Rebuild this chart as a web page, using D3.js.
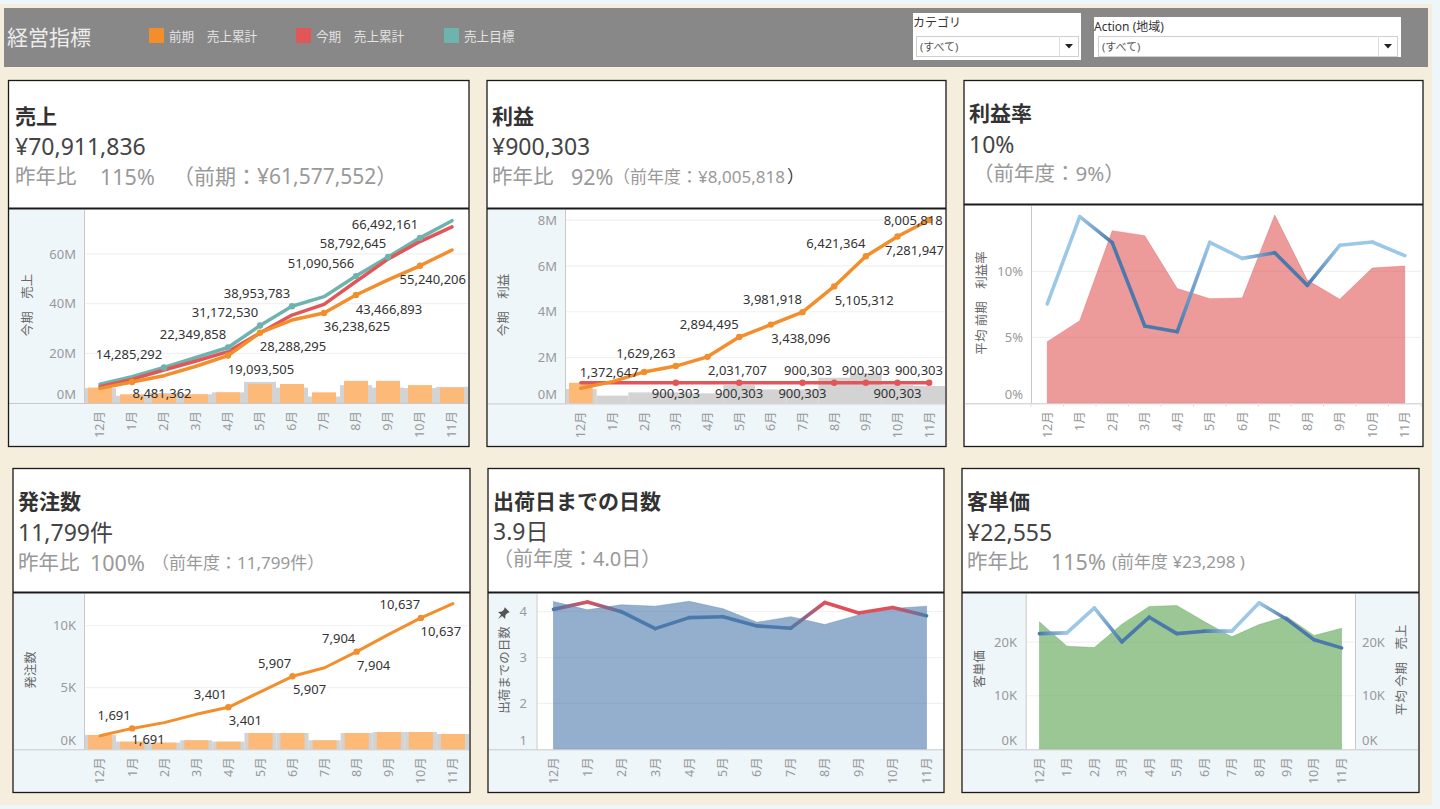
<!DOCTYPE html>
<html lang="ja"><head><meta charset="utf-8">
<script src="https://cdn.jsdelivr.net/npm/d3@7"></script>
<style>
html,body{margin:0;padding:0;background:#EFF6FA;overflow:hidden}
svg{display:block}
text{font-family:"Noto Sans","Noto Sans CJK JP",sans-serif}
</style></head><body>
<svg id="c" width="1440" height="809"></svg>
<script>
// ---------- data ----------
const months = ["12月","1月","2月","3月","4月","5月","6月","7月","8月","9月","10月","11月"];

const salesTarget = [7600000,10600000,14285292,18300000,22349858,31172530,38953783,42800000,51090566,58792645,66492161,73400000];
const salesCurrent = [6600000,9500000,13300000,16900000,20700000,28200000,35400000,39700000,48900000,57900000,65000000,70911836];
const salesPrior = [5900000,8481362,11000000,14800000,19093505,28288295,33400000,36238625,43466893,49600000,55240206,61577552];
const salesBarCurrent = [6200000,3500000,3500000,3500000,4300000,7650000,7650000,4300000,8900000,8900000,7200000,6200000];
const salesBarPrior = [6000000,2900000,4000000,3500000,4300000,8500000,6200000,2600000,7200000,6200000,6000000,6500000];
const salesTicks = [0,20000000,40000000,60000000];

const profitPrior = [660000,950000,1372647,1629263,2031707,2894495,3438096,3981918,5105312,6421364,7281947,8005818];
const profitCurrent = [900303,900303,900303,900303,900303,900303,900303,900303,900303,900303,900303,900303];
const profitBarCurrent = [900303,0,0,0,0,0,0,0,0,0,0,0];
const profitBarPrior = [630000,340000,480000,480000,440000,800000,610000,610000,1120000,1310000,800000,760000];
const profitTicks = [0,2000000,4000000,6000000,8000000];

const marginPrior = [4.67,6.26,13.08,12.7,8.69,7.93,7.98,14.27,9.34,7.88,10.25,10.4];
const marginCurrent = [7.53,14.14,12.17,5.86,5.43,12.2,10.98,11.41,8.94,11.97,12.22,11.19];
const marginTicks = [0,5,10];

const orders = [1090,1691,2160,2830,3401,4650,5907,6600,7904,9300,10637,11799];
const orderBarCurrent = [1160,620,540,730,620,1320,1320,730,1320,1400,1400,1240];
const orderBarPrior = [1160,620,540,730,620,1320,1320,730,1320,1400,1400,1240];
const orderTicks = [0,5000,10000];

const shipPrior = [4.22,4.04,4.15,4.12,4.225,4.065,3.77,3.89,3.72,3.93,4.07,4.12];
const shipCurrent = [4.05,4.21,4.0,3.63,3.87,3.89,3.69,3.64,4.2,3.97,4.09,3.91];
const shipTicks = [1,2,3,4];

const unitPrior = [23800,19250,19000,23360,26670,26850,23860,21000,23300,24800,21250,22600];
const unitCurrent = [21600,21740,26400,20060,24670,21600,22060,22060,27350,24300,20440,18940];
const unitTicks = [0,10000,20000];

const legendItems = ["前期　売上累計","今期　売上累計","売上目標"];

// ---------- styles ----------
const C = {beige:"#F5EEDD",band:"#888888",side:"#EFF6FA",grid:"#F1F1F1",axis:"#C9C9C9",
  orange:"#F28E2B",red:"#E15759",teal:"#6FB3AE",barO:"#FDB977",barG:"#D3D3D3",
  dark:"#4C79AB",light:"#9CC8E8",tick:"#999",title:"#666",label:"#333",border:"#1a1a1a"};
const svg = d3.select("#c");
svg.append("rect").attr("x",0).attr("y",4).attr("width",1432).attr("height",801).attr("fill",C.beige);

function txt(parent,x,y,s,size,fill,opt={}){
  const t=parent.append("text").attr("x",x).attr("y",y).attr("dominant-baseline","central")
    .attr("font-size",size).attr("fill",fill).text(s);
  if(opt.weight)t.attr("font-weight",opt.weight);
  if(opt.anchor)t.attr("text-anchor",opt.anchor);
  return t;
}

// ---------- header band ----------
svg.append("rect").attr("x",4).attr("y",8).attr("width",1424).attr("height",59).attr("fill",C.band);
txt(svg,7,37,"経営指標",21,"#EDEDED");
[[149,C.orange],[296,C.red],[444,C.teal]].forEach(([x,col],i)=>{
  svg.append("rect").attr("x",x).attr("y",28).attr("width",15).attr("height",15).attr("fill",col);
  txt(svg,x+20,36,legendItems[i],12.6,"#E4E4E4");
});
function dropdown(x,y,w,h,bx,by,bw,bh,label,labelY){
  svg.append("rect").attr("x",x).attr("y",y).attr("width",w).attr("height",h).attr("fill","#fff");
  txt(svg,x,labelY,label,12,"#333");
  svg.append("rect").attr("x",bx+.5).attr("y",by+.5).attr("width",bw).attr("height",bh).attr("fill","#fff").attr("stroke","#CFCFCF");
  svg.append("line").attr("x1",bx+bw-18.5).attr("x2",bx+bw-18.5).attr("y1",by).attr("y2",by+bh).attr("stroke","#DDD");
  txt(svg,bx+4,by+10,"(すべて)",11,"#555");
  const cx=bx+bw-9, cy=by+10;
  svg.append("path").attr("d",`M${cx-4},${cy-2}L${cx+4},${cy-2}L${cx},${cy+2.5}Z`).attr("fill","#222");
}
dropdown(913,13,168,47,916,36,162,20,"カテゴリ",22);
dropdown(1094,17,307,40,1098,36,299,20,"Action (地域)",26);

// ---------- panel frames and headers ----------
const panels=[
 {x:8.5,w:460.5,top:80.5,mid:208.5,bot:446.5},{x:487,w:459,top:80.5,mid:208.5,bot:446.5},{x:964,w:459,top:80.5,mid:204.5,bot:446.5},
 {x:13,w:457,top:468.5,mid:592.5,bot:792.5},{x:488,w:456,top:468.5,mid:592.5,bot:792.5},{x:962,w:457,top:468.5,mid:592.5,bot:792.5}];
panels.forEach(p=>{
  svg.append("rect").attr("x",p.x).attr("y",p.top).attr("width",p.w).attr("height",p.mid-p.top).attr("fill","#fff");
  svg.append("rect").attr("x",p.x).attr("y",p.mid).attr("width",p.w).attr("height",p.bot-p.mid).attr("fill","#fff");
});
function head(x,yT,title,value,yV,yS,subs){
  txt(svg,x,yT,title,21,"#333",{weight:700});
  txt(svg,x,yV,value,23,"#444");
  subs.forEach(s=>txt(svg,s[0],yS,s[1],s[2],s[3]||"#999"));
}
head(15,115.5,"売上","¥70,911,836",146,176,[[15,"昨年比",20.5],[100,"115%",21.5],[173,"（前期：¥61,577,552）",21]]);
head(492,115.5,"利益","¥900,303",146,176,[[492,"昨年比",20.5],[571,"92%",21.5],[613,"（前年度：¥8,005,818",17],[787,"）",17,"#333"]]);
head(969,112.5,"利益率","10%",144,173,[[973,"（前年度：9%）",20.5]]);
head(18,500.5,"発注数","11,799件",532,562,[[18,"昨年比",20.5],[90,"100%",21.5],[152,"（前年度：11,799件）",17]]);
head(493,500.5,"出荷日までの日数","3.9日",531,558,[[493,"（前年度：4.0日）",20]]);
head(967,500.5,"客単価","¥22,555",532,561,[[967,"昨年比",20.5],[1051,"115%",21.5],[1112,"(前年度 ¥23,298 )",17]]);

// ---------- drawing helpers ----------
function plot(cfg){
  const {left,right,x0,x1,top,base,domain,ticks,fmt,tickX,titleText,titleX,titleY,sides}=cfg;
  const g=svg.append("g");
  if(sides){
    g.append("rect").attr("x",left).attr("y",top).attr("width",x0-left).attr("height",cfg.bottom-top).attr("fill",C.side);
    g.append("rect").attr("x",left).attr("y",base).attr("width",right-left).attr("height",cfg.bottom-base).attr("fill",C.side);
  }
  const x=d3.scaleBand().domain(months).range([x0,x1]);
  const y=d3.scaleLinear().domain(domain).range([base,top]);
  g.selectAll("line.grid").data(ticks.filter(t=>t!==domain[0])).join("line")
    .attr("x1",x0).attr("x2",x1).attr("y1",d=>y(d)).attr("y2",d=>y(d)).attr("stroke",C.grid).attr("stroke-width",1.2);
  const ay=g.append("g").attr("transform",`translate(${tickX},0)`)
    .call(d3.axisLeft(y).tickValues(ticks).tickFormat(fmt).tickSize(0).tickPadding(0));
  ay.select(".domain").remove();
  ay.selectAll("text").attr("font-size",13).attr("fill",C.tick).attr("font-family",null)
    .attr("dy",d=>d===domain[0]?"-0.37em":"0.32em").attr("x",0);
  const ax=g.append("g").attr("transform",`translate(0,${base})`)
    .call(d3.axisBottom(x).tickSize(0).tickPadding(0));
  ax.select(".domain").remove();
  ax.selectAll("text").attr("font-size",12.5).attr("fill",C.tick).attr("font-family",null)
    .attr("text-anchor","end").attr("transform","rotate(-90)").attr("x",-8).attr("y",0).attr("dy","0.35em");
  if(titleText) g.append("text").attr("transform",`translate(${titleX},${titleY}) rotate(-90)`)
    .attr("text-anchor","middle").attr("dominant-baseline","central")
    .attr("font-size",12.5).attr("fill",C.title).text(titleText);
  return {g,x,y,cx:i=>x(months[i])+x.bandwidth()/2,cfg};
}
function finishAxes(p){
  const {g,cfg}=p;
  g.append("line").attr("x1",cfg.left).attr("x2",cfg.right).attr("y1",cfg.base+.5).attr("y2",cfg.base+.5).attr("stroke",C.axis);
  g.append("line").attr("x1",cfg.x0+.5).attr("x2",cfg.x0+.5).attr("y1",cfg.top).attr("y2",cfg.base).attr("stroke",C.axis);
}
function bars(p,values,col,pad){
  p.g.append("g").selectAll("rect").data(values).join("rect")
    .attr("x",(d,i)=>p.x(months[i])+pad).attr("width",p.x.bandwidth()-2*pad)
    .attr("y",d=>p.y(d)).attr("height",d=>p.y(p.y.domain()[0])-p.y(d)).attr("fill",col);
}
function line(p,values,col,w=3.5){
  p.g.append("path").datum(values)
    .attr("d",d3.line().x((d,i)=>p.cx(i)).y(d=>p.y(d)))
    .attr("fill","none").attr("stroke",col).attr("stroke-width",w).attr("stroke-linejoin","round").attr("stroke-linecap","round");
}
function dots(p,values,which,col){
  p.g.append("g").selectAll("circle").data(which).join("circle")
    .attr("cx",i=>p.cx(i)).attr("cy",i=>p.y(values[i])).attr("r",3.2).attr("fill",col);
}
function labels(p,values,which,dx,dy,maxRight){
  const f=d3.format(",");
  p.g.append("g").selectAll("text").data(which).join("text")
    .attr("text-anchor","middle").attr("dominant-baseline","central")
    .attr("font-size",13).attr("fill",C.label)
    .text(i=>f(values[i]))
    .each(function(i){
      const w=this.getComputedTextLength();
      let cx=p.cx(i)+dx;
      if(maxRight!=null) cx=Math.min(cx,maxRight-w/2);
      d3.select(this).attr("x",cx).attr("y",p.y(values[i])+dy);
    });
}
function area(p,values,col){
  p.g.append("path").datum(values)
    .attr("d",d3.area().x((d,i)=>p.cx(i)).y0(p.cfg.base).y1(d=>p.y(d)))
    .attr("fill",col).attr("fill-opacity",.6).attr("stroke",col).attr("stroke-opacity",.35);
}
let gid=0;
function gradLine(p,values,colorAt,w=3.6){
  const defs=svg.select("defs").empty()?svg.append("defs"):svg.select("defs");
  for(let i=0;i<values.length-1;i++){
    const id="g"+(gid++);
    const a=[p.cx(i),p.y(values[i])], b=[p.cx(i+1),p.y(values[i+1])];
    const lg=defs.append("linearGradient").attr("id",id).attr("gradientUnits","userSpaceOnUse")
      .attr("x1",a[0]).attr("y1",a[1]).attr("x2",b[0]).attr("y2",b[1]);
    lg.append("stop").attr("offset","0%").attr("stop-color",colorAt(i));
    lg.append("stop").attr("offset","100%").attr("stop-color",colorAt(i+1));
    p.g.append("line").attr("x1",a[0]).attr("y1",a[1]).attr("x2",b[0]+.01).attr("y2",b[1]+.01)
      .attr("stroke",`url(#${id})`).attr("stroke-width",w).attr("stroke-linecap","round");
  }
}
const fmtM=d=>d/1e6+"M", fmtK=d=>d/1e3+"K", fmtP=d=>d+"%";

// ---------- 売上 ----------
{
  const p=plot({left:9,right:468,bottom:446,x0:84,x1:468,top:210,base:403,domain:[0,77700000],ticks:salesTicks,fmt:fmtM,tickX:76,
    titleText:"今期　売上",titleX:27,titleY:305,sides:true});
  bars(p,salesBarPrior,C.barG,0); bars(p,salesBarCurrent,C.barO,4);
  finishAxes(p);
  line(p,salesTarget,C.teal); line(p,salesCurrent,C.red); line(p,salesPrior,C.orange);
  dots(p,salesTarget,[2,4,5,6,8,9,10],C.teal);
  dots(p,salesPrior,[1,4,5,7,8,10],C.orange);
  labels(p,salesTarget,[2,4,5,6,8,9,10],-35,-13.5);
  labels(p,salesPrior,[1],30,11);
  labels(p,salesPrior,[4,5,7,8,10],33,13.5,466);
}
// ---------- 利益 ----------
{
  const p=plot({left:488,right:945,bottom:446,x0:565,x1:945,top:210,base:403.4,domain:[0,8440000],ticks:profitTicks,fmt:fmtM,tickX:557,
    titleText:"今期　利益",titleX:503,titleY:305,sides:true});
  bars(p,profitBarPrior,C.barG,0); bars(p,profitBarCurrent,C.barO,4);
  finishAxes(p);
  line(p,profitCurrent,C.red); line(p,profitPrior,C.orange);
  dots(p,profitCurrent,[3,5,7,8,9,10,11],C.red);
  dots(p,profitPrior,[2,3,4,5,6,7,8,9,10,11],C.orange);
  labels(p,profitPrior,[2],-35,0);
  labels(p,profitPrior,[3,5,7,9],-30,-13.5);
  labels(p,profitPrior,[4,6,8],30,13.5);
  labels(p,profitPrior,[10],30,13,944);
  labels(p,profitPrior,[11],-16,0);
  labels(p,profitCurrent,[3,5,7,10],0,10.5);
  labels(p,profitCurrent,[8],-26,-12.5);
  labels(p,profitCurrent,[9],0,-12.5);
  labels(p,profitCurrent,[11],0,-12.5,943);
}
// ---------- 利益率 ----------
{
  const p=plot({left:965,right:1422,bottom:446,x0:1031,x1:1421,top:206,base:403.3,domain:[0,14.95],ticks:marginTicks,fmt:fmtP,tickX:1023,
    titleText:"平均 前期　利益率",titleX:981,titleY:303,sides:false});
  area(p,marginPrior,C.red);
  finishAxes(p);
  p.g.selectAll("line.bt").data(d3.range(13)).join("line")
    .attr("x1",i=>p.x.range()[0]+i*p.x.step()).attr("x2",i=>p.x.range()[0]+i*p.x.step()).attr("y1",403).attr("y2",407).attr("stroke","#E2E2E2");
  gradLine(p,marginCurrent,i=>marginCurrent[i]<marginPrior[i]?C.dark:C.light);
}
// ---------- 発注数 ----------
{
  const p=plot({left:14,right:469,bottom:792,x0:84,x1:469,top:594,base:749.3,domain:[0,12570],ticks:orderTicks,fmt:fmtK,tickX:76,
    titleText:"発注数",titleX:30,titleY:670,sides:true});
  bars(p,orderBarPrior,C.barG,0); bars(p,orderBarCurrent,C.barO,4);
  finishAxes(p);
  line(p,orders,C.orange,3);
  dots(p,orders,[1,4,6,8,10],C.orange);
  labels(p,orders,[1,4,6,8],-18,-13.5);
  labels(p,orders,[10],-21,-13.5);
  labels(p,orders,[1],16,11);
  labels(p,orders,[4,6,8],17,13);
  labels(p,orders,[10],20,13);
}
// ---------- 出荷日までの日数 ----------
{
  const p=plot({left:489,right:943,bottom:792,x0:536.5,x1:943.5,top:594,base:749.3,domain:[1,4.385],ticks:shipTicks,fmt:d=>d,tickX:527,
    titleText:"出荷までの日数",titleX:504,titleY:670,sides:true});
  area(p,shipPrior,C.dark);
  finishAxes(p);
  gradLine(p,shipCurrent,i=>shipCurrent[i]>shipPrior[i]?"#E0505A":C.dark);
  svg.append("path").attr("transform","translate(503,614) rotate(45)")
    .attr("d","M-3.5,-6H3.5L2.5,-4V-1L5,2H0.8L0,7L-0.8,2H-5L-2.5,-1V-4Z").attr("fill","#555");
}
// ---------- 客単価 ----------
{
  const p=plot({left:963,right:1418,bottom:792,x0:1025.7,x1:1355.3,top:594,base:749.3,domain:[0,29000],ticks:unitTicks,fmt:fmtK,tickX:1017,
    titleText:"客単価",titleX:979,titleY:669,sides:true});
  p.g.append("rect").attr("x",1355.3).attr("y",594).attr("width",63).attr("height",156).attr("fill",C.side);
  area(p,unitPrior,"#59A14F");
  finishAxes(p);
  p.g.append("line").attr("x1",1355.5).attr("x2",1355.5).attr("y1",594).attr("y2",749).attr("stroke",C.axis);
  const ar=p.g.append("g").attr("transform","translate(1362,0)")
    .call(d3.axisRight(p.y).tickValues(unitTicks).tickFormat(fmtK).tickSize(0).tickPadding(0));
  ar.select(".domain").remove();
  ar.selectAll("text").attr("font-size",13).attr("fill",C.tick).attr("font-family",null).attr("x",0)
    .attr("dy",d=>d===0?"-0.37em":"0.32em");
  p.g.append("text").attr("transform","translate(1401,670) rotate(-90)").attr("text-anchor","middle")
    .attr("dominant-baseline","central").attr("font-size",12.5).attr("fill",C.title).text("平均 今期　売上");
  gradLine(p,unitCurrent,i=>unitCurrent[i]>unitPrior[i]?C.light:C.dark);
}
// frames on top
panels.forEach(p=>{
  svg.append("rect").attr("x",p.x).attr("y",p.top).attr("width",p.w).attr("height",p.bot-p.top).attr("fill","none").attr("stroke",C.border).attr("stroke-width",1.3);
  svg.append("line").attr("x1",p.x).attr("x2",p.x+p.w).attr("y1",p.mid).attr("y2",p.mid).attr("stroke",C.border).attr("stroke-width",2);
});
</script></body></html>
